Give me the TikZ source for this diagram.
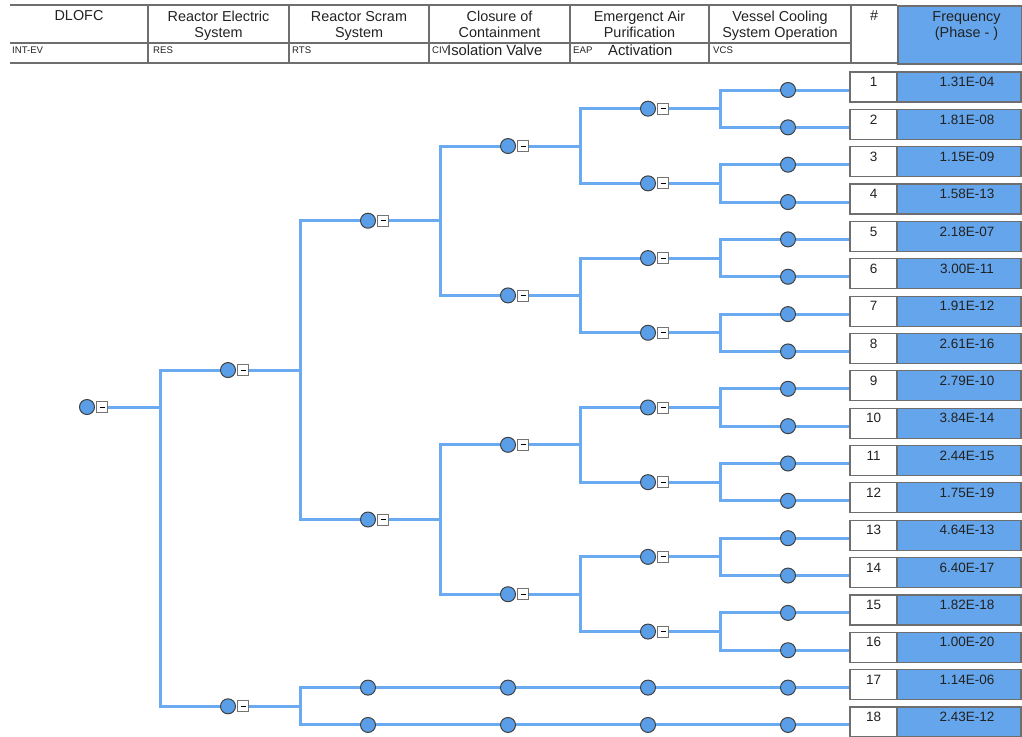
\documentclass[tikz,border=0pt]{standalone}
\usepackage{fontspec}
\setmainfont{Liberation Sans}
\definecolor{lineblue}{HTML}{6AAAF0}
\definecolor{nodeblue}{HTML}{5B9EE8}
\definecolor{freqblue}{HTML}{64A5EC}
\definecolor{frame}{HTML}{6E6E6E}
\definecolor{ink}{HTML}{222222}
\pgfdeclarelayer{background}
\pgfsetlayers{background,main}
\newcommand{\mn}{\rule{5pt}{0.9pt}}
\begin{document}
\begin{tikzpicture}[x=1pt,y=-1pt,
  br/.style={draw=lineblue,line width=3pt},
  ev/.style={circle,draw=black!75,fill=nodeblue,line width=1pt,minimum size=15pt,inner sep=0pt},
  mb/.style={rectangle,draw=black!55,fill=white,line width=0.8pt,minimum size=11pt,inner sep=0pt},
  hd/.style={font=\fontsize{14.4}{17}\selectfont,anchor=base,inner sep=0pt,text=ink},
  sub/.style={font=\fontsize{14.8}{17}\selectfont,anchor=base west,inner sep=0pt,text=ink},
  tag/.style={font=\fontsize{9.6}{11}\selectfont,anchor=base west,inner sep=0pt,text=ink},
  hline/.style={draw=frame,line width=1.8pt},
  numbox/.style={draw=frame,fill=white,line width=1.2pt,minimum width=47pt,minimum height=30pt,
    inner xsep=0pt,inner ysep=0pt,text height=14.7pt,text depth=15.3pt,
    font=\fontsize{13.5}{15}\selectfont,text=ink},
  freqbox/.style={numbox,fill=freqblue,minimum width=124pt,execute at begin node={\hspace*{16pt}}}
]
\useasboundingbox (0,0) rectangle (1022,736);

% ---------------- header ----------------
\node[draw=frame,fill=freqblue,line width=1.8pt,minimum width=124pt,minimum height=58pt,inner sep=0pt,anchor=north west] (fh) at (897,5) {};
\draw[hline] (10,5) -- (897,5);
\draw[hline] (10,43) -- (851,43);
\draw[hline] (10,63) -- (897,63);
\foreach \xx in {148,289,429,570,709,851} \draw[hline] (\xx,5) -- (\xx,63);

\node[hd] (h1) at (79,20.5) {DLOFC};
\node[hd] (h2a) at (218.5,21) {Reactor Electric};
\node[hd] (h2b) at (218.5,37.7) {System};
\node[hd] (h3a) at (359,21) {Reactor Scram};
\node[hd] (h3b) at (359,37.7) {System};
\node[hd] (h4a) at (499.5,21) {Closure of};
\node[hd] (h4b) at (499.5,37.7) {Containment};
\node[hd] (h5a) at (639.5,21) {Emergenct Air};
\node[hd] (h5b) at (639.5,37.7) {Purification};
\node[hd] (h6a) at (780,21) {Vessel Cooling};
\node[hd] (h6b) at (780,37.7) {System Operation};
\node[hd] (h7) at (874,20.5) {\#};
\node[hd] (h8a) at (966.5,21) {Frequency};
\node[hd] (h8b) at (966.5,37.7) {(Phase - )};

\node[tag] (t1) at (12,53.5) {INT-EV};
\node[tag] (t2) at (153,53.5) {RES};
\node[tag] (t3) at (292,53.5) {RTS};
\node[tag] (t4) at (432,53.5) {CIV};
\node[sub] (s4) at (447,55.7) {Isolation Valve};
\node[tag] (t5) at (573,53.5) {EAP};
\node[sub] (s5) at (608,55.7) {Activation};
\node[tag] (t6) at (713,53.5) {VCS};

% ---------------- result rows ----------------
\def\frq{{"1.31E-04","1.81E-08","1.15E-09","1.58E-13","2.18E-07","3.00E-11","1.91E-12","2.61E-16",
"2.79E-10","3.84E-14","2.44E-15","1.75E-19","4.64E-13","6.40E-17","1.82E-18","1.00E-20","1.14E-06","2.43E-12"}}
\foreach \i in {1,...,18} {
  \pgfmathsetmacro\yb{87+(\i-1)*37.35}
  \pgfmathsetmacro\ff{\frq[\i-1]}
  \node[numbox] (num\i) at (873.5,\yb) {\i};
  \node[freqbox] (frq\i) at (959,\yb) {\ff};
}

% ---------------- event nodes ----------------
\node[ev] (ie) at (87,407) {};
\node[mb] (iem) at (102,407) {\mn};

\node[ev] (res1) at (228,370.05) {};
\node[mb] (resm1) at (243,370.05) {\mn};
\node[ev] (res2) at (228,706.3) {};
\node[mb] (resm2) at (243,706.3) {\mn};

\foreach \m in {1,2} {
  \pgfmathsetmacro\yy{90+(8*\m-4.5)*37.35}
  \node[ev] (rts\m) at (368,\yy) {};
  \node[mb] (rtsm\m) at (383,\yy) {\mn};
}
\foreach \k in {1,...,4} {
  \pgfmathsetmacro\yy{90+(4*\k-2.5)*37.35}
  \node[ev] (civ\k) at (508,\yy) {};
  \node[mb] (civm\k) at (523,\yy) {\mn};
}
\foreach \j in {1,...,8} {
  \pgfmathsetmacro\yy{90+(2*\j-1.5)*37.35}
  \node[ev] (eap\j) at (648,\yy) {};
  \node[mb] (eapm\j) at (663,\yy) {\mn};
}
\foreach \i in {1,...,16} {
  \pgfmathsetmacro\yy{90+(\i-1)*37.35}
  \node[ev] (vcs\i) at (788,\yy) {};
}
\foreach \r in {17,18} {
  \pgfmathsetmacro\yy{90+(\r-1)*37.35}
  \node[ev] (pa\r) at (368,\yy) {};
  \node[ev] (pb\r) at (508,\yy) {};
  \node[ev] (pc\r) at (648,\yy) {};
  \node[ev] (pd\r) at (788,\yy) {};
}

% ---------------- branches ----------------
\begin{pgfonlayer}{background}
\draw[br] (iem) -- (160,407) coordinate (s0) |- (res1);
\draw[br] (s0) |- (res2);

\draw[br] (resm1) -- (300,370.05) coordinate (sr1) |- (rts1);
\draw[br] (sr1) |- (rts2);
\draw[br] (resm2) -- (300,706.3) coordinate (sr2) |- (pa17);
\draw[br] (sr2) |- (pa18);
\foreach \r in {17,18} {
  \draw[br] (pa\r) -- (pb\r) -- (pc\r) -- (pd\r) -- (pd\r -| num\r.west);
}

\foreach \m in {1,2} {
  \pgfmathsetmacro\yy{90+(8*\m-4.5)*37.35}
  \pgfmathtruncatemacro\ca{2*\m-1}
  \pgfmathtruncatemacro\cb{2*\m}
  \draw[br] (rtsm\m) -- (440,\yy) coordinate (st\m) |- (civ\ca);
  \draw[br] (st\m) |- (civ\cb);
}
\foreach \k in {1,...,4} {
  \pgfmathsetmacro\yy{90+(4*\k-2.5)*37.35}
  \pgfmathtruncatemacro\ca{2*\k-1}
  \pgfmathtruncatemacro\cb{2*\k}
  \draw[br] (civm\k) -- (580,\yy) coordinate (sc\k) |- (eap\ca);
  \draw[br] (sc\k) |- (eap\cb);
}
\foreach \j in {1,...,8} {
  \pgfmathsetmacro\yy{90+(2*\j-1.5)*37.35}
  \pgfmathtruncatemacro\ca{2*\j-1}
  \pgfmathtruncatemacro\cb{2*\j}
  \draw[br] (eapm\j) -- (720,\yy) coordinate (se\j) |- (vcs\ca);
  \draw[br] (se\j) |- (vcs\cb);
}
\foreach \i in {1,...,16} {
  \draw[br] (vcs\i) -- (vcs\i -| num\i.west);
}
\end{pgfonlayer}
\end{tikzpicture}
\end{document}
